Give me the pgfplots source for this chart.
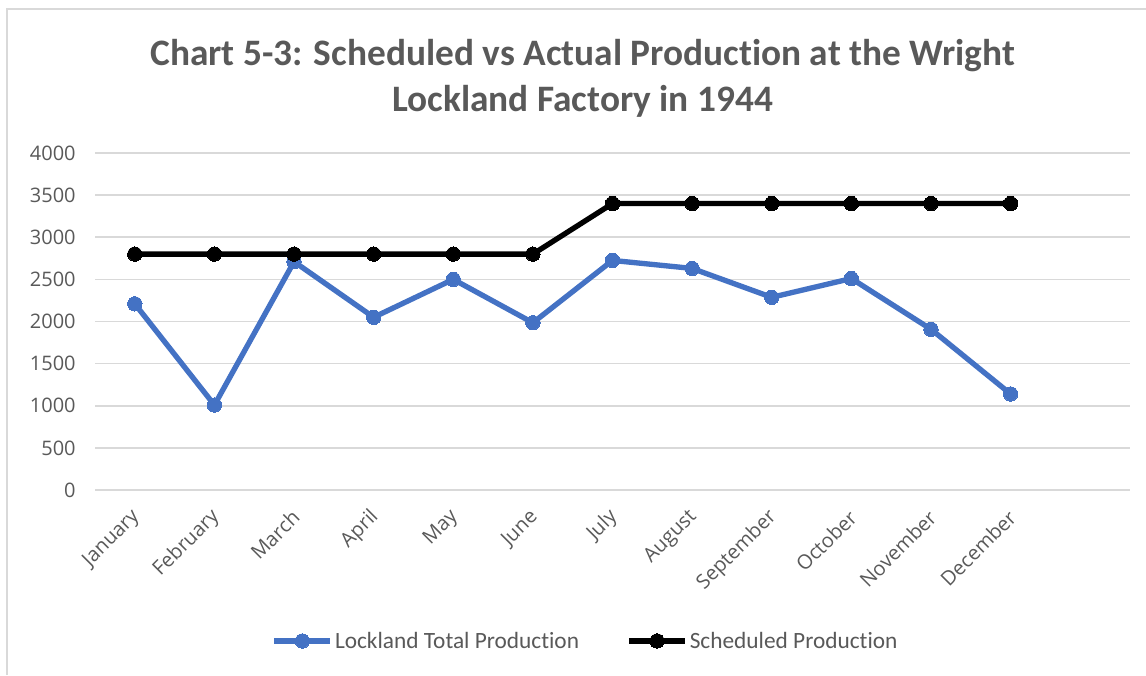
\documentclass[border=0pt]{standalone}
\usepackage{pgfplots}
\pgfplotsset{compat=1.18}
\usepackage{fontspec}
\setmainfont{Carlito}[Ligatures={NoCommon,NoRare,NoContextual}]
\newfontfamily\tickfont{Open Sans}
\definecolor{txt}{HTML}{595959}
\definecolor{blueline}{HTML}{4472C4}
\definecolor{gridc}{HTML}{D9D9D9}
\begin{document}
\begin{tikzpicture}
\path[use as bounding box] (0pt,0pt) rectangle (859.5pt,506.25pt);
\draw[gridc,line width=1.5pt] (5.25pt,0pt) -- (5.25pt,499.5pt) -- (859.5pt,499.5pt);
\node[font=\bfseries\fontsize{28}{34.5}\selectfont, text=txt, align=center] at (437pt,447.5pt) {Chart 5-3: Scheduled vs Actual Production at the Wright\\Lockland Factory in 1944};
\begin{axis}[
  at={(71.25pt,138.75pt)}, anchor=south west,
  scale only axis, width=776.25pt, height=252.75pt,
  xmin=-0.5, xmax=12.5, ymin=0, ymax=4000,
  xtick={0,...,11},
  xticklabels={January,February,March,April,May,June,July,August,September,October,November,December},
  ytick={0,500,...,4000},
  ymajorgrids, grid style={gridc, line width=1.2pt},
  axis line style={draw=none},
  axis x line*=bottom, axis y line*=left,
  major tick length=0pt,
  tick label style={text=txt, font=\tickfont\fontsize{15}{18}\selectfont},
  /pgf/number format/assume math mode=true,
  yticklabel style={/pgf/number format/1000 sep={}, xshift=-11pt},
  xticklabel style={xshift=3.75pt, yshift=-15.5pt, rotate=45, anchor=east},
  legend style={at={(0.474,-0.448)}, anchor=center, legend columns=2, draw=none,
    font=\fontsize{17.5}{21}\selectfont, text=txt,
    nodes={inner xsep=1.5pt},
    /tikz/every even column/.append style={column sep=34pt}},
  legend cell align=left,
  legend image code/.code={\draw[#1, mark repeat=2, mark phase=2] plot coordinates {(0pt,0pt) (21pt,0pt) (42pt,0pt)};},
  clip=false,
]
\addplot[blueline, line width=4pt, mark=*, mark size=5.4pt, mark options={fill=blueline, draw=blueline, line width=0pt}] coordinates {
(0,2210) (1,1008) (2,2710) (3,2050) (4,2500) (5,1985) (6,2725) (7,2630) (8,2287) (9,2510) (10,1908) (11,1140)};
\addlegendentry{Lockland Total Production}
\addplot[black, line width=4pt, mark=*, mark size=5.4pt, mark options={fill=black, draw=black, line width=0pt}] coordinates {
(0,2800) (1,2800) (2,2800) (3,2800) (4,2800) (5,2800) (6,3400) (7,3400) (8,3400) (9,3400) (10,3400) (11,3400)};
\addlegendentry{Scheduled Production}
\end{axis}
\end{tikzpicture}
\end{document}
